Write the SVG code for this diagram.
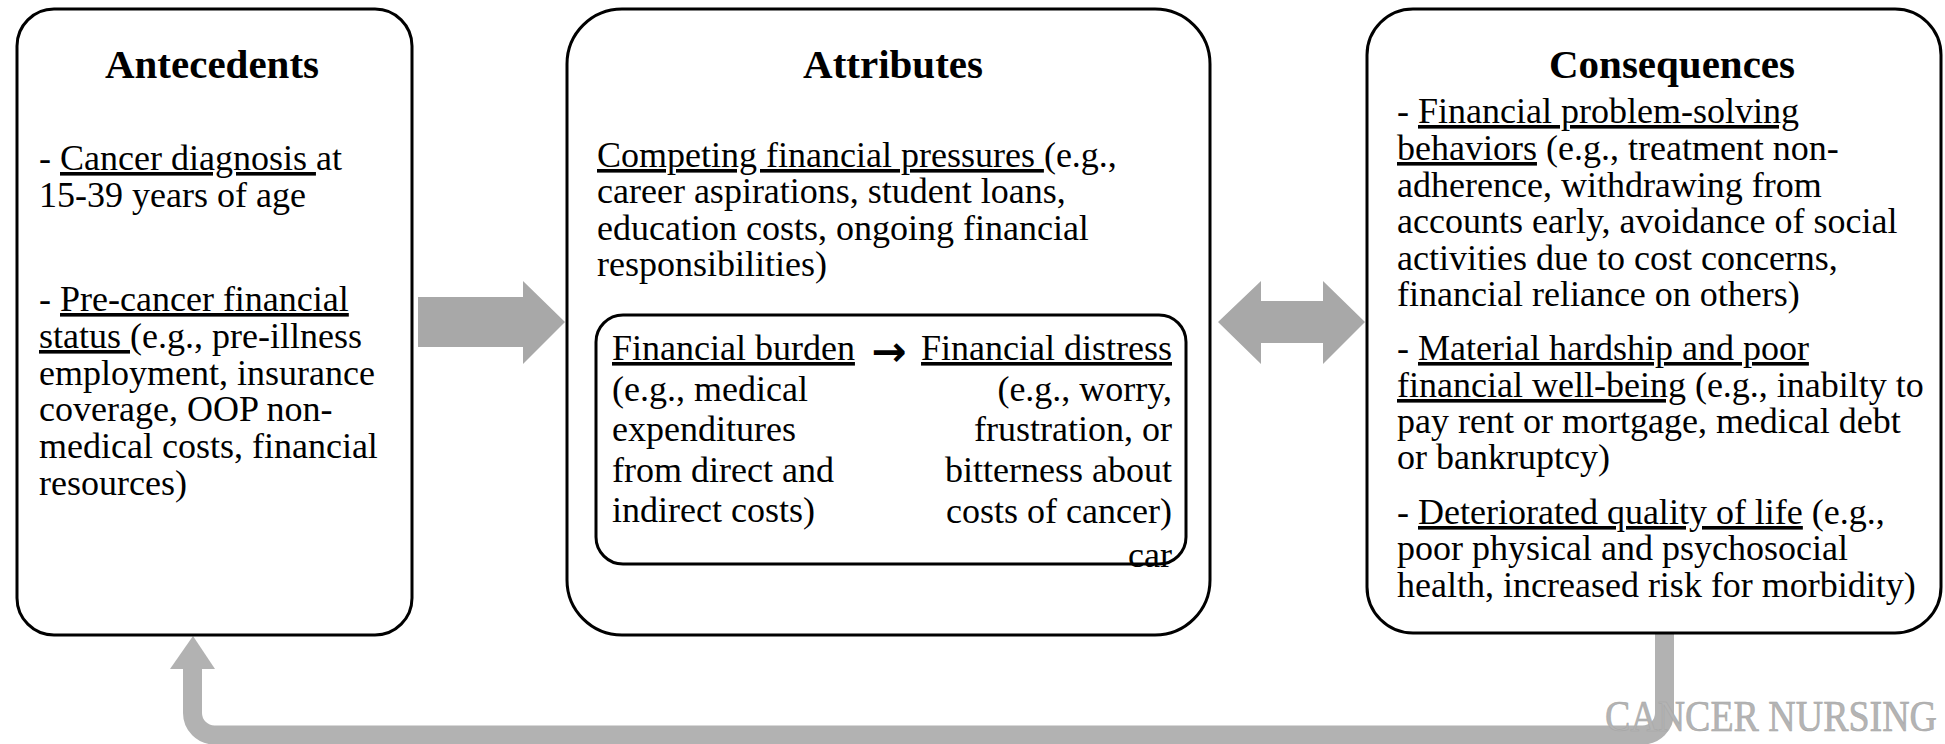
<svg xmlns="http://www.w3.org/2000/svg" width="1945" height="744" viewBox="0 0 1945 744">
  <style>
    .box { fill: #ffffff; stroke: #000000; stroke-width: 3; }
    .title { font-family: "Liberation Serif", "Times New Roman", serif; font-size: 41px; font-weight: bold; fill: #000000; }
    .body { font-family: "Liberation Serif", "Times New Roman", serif; font-size: 36px; fill: #000000; }
    .u { text-decoration: underline; }
    .block { fill: #a8a8a8; }
    .loop { fill: none; stroke: #b2b2b2; stroke-width: 19; }
    .loophead { fill: #b2b2b2; }
    .mark { font-family: "Liberation Serif", "Times New Roman", serif; font-size: 44px; fill: #b4b4b4; stroke: #a6a6a6; stroke-width: 0.6; }
  </style>

  <rect width="1945" height="744" fill="#ffffff"/>

  <!-- connectors -->
  <g id="connectors">
    <polygon class="block" points="418,297 523,297 523,281 565,322 523,364 523,347 418,347"/>
    <polygon class="block" points="1218,322 1261,281 1261,301 1323,301 1323,281 1365,322 1323,364 1323,343 1261,343 1261,364"/>
    <path class="loop" d="M1664.5,633 V713 A22,22 0 0 1 1642.5,735 H214.5 A22,22 0 0 1 192.5,713 V666"/>
    <polygon class="loophead" points="170,669 215,669 193,636"/>
  </g>

  <!-- antecedents -->
  <g id="antecedents">
    <rect class="box" x="17" y="9" width="395" height="626" rx="37" ry="37"/>
    <text class="title" x="212" y="78" text-anchor="middle">Antecedents</text>
    <text class="body" x="39" y="170">- <tspan class="u">Cancer diagnosis </tspan>at</text>
    <text class="body" x="39" y="207">15-39 years of age</text>
    <text class="body" x="39" y="311">- <tspan class="u">Pre-cancer financial</tspan></text>
    <text class="body" x="39" y="348"><tspan class="u">status </tspan>(e.g., pre-illness</text>
    <text class="body" x="39" y="385">employment, insurance</text>
    <text class="body" x="39" y="421">coverage, OOP non-</text>
    <text class="body" x="39" y="458">medical costs, financial</text>
    <text class="body" x="39" y="495">resources)</text>
  </g>

  <!-- attributes -->
  <g id="attributes">
    <rect class="box" x="567" y="9" width="643" height="626" rx="55" ry="55"/>
    <text class="title" x="893" y="78" text-anchor="middle">Attributes</text>
    <text class="body" x="597" y="167"><tspan class="u">Competing financial pressures </tspan>(e.g.,</text>
    <text class="body" x="597" y="203">career aspirations, student loans,</text>
    <text class="body" x="597" y="240">education costs, ongoing financial</text>
    <text class="body" x="597" y="276">responsibilities)</text>
  </g>

  <!-- burden and distress, inside attributes -->
  <g id="burden-distress">
    <rect class="box" x="596" y="315" width="590" height="249" rx="27" ry="27"/>
    <text class="body" x="612" y="360"><tspan class="u">Financial burden</tspan></text>
    <text x="889" y="366" text-anchor="middle" font-family="DejaVu Sans, sans-serif" font-size="42" font-weight="bold">→</text>
    <text class="body" x="612" y="401">(e.g., medical</text>
    <text class="body" x="612" y="441">expenditures</text>
    <text class="body" x="612" y="482">from direct and</text>
    <text class="body" x="612" y="522">indirect costs)</text>
    <g text-anchor="end">
      <text class="body" x="1172" y="360"><tspan class="u">Financial distress</tspan></text>
      <text class="body" x="1172" y="401">(e.g., worry,</text>
      <text class="body" x="1172" y="441">frustration, or</text>
      <text class="body" x="1172" y="482">bitterness about</text>
      <text class="body" x="1172" y="523">costs of cancer)</text>
      <text class="body" x="1172" y="567">car</text>
    </g>
  </g>

  <!-- consequences -->
  <g id="consequences">
    <rect class="box" x="1367" y="9" width="574" height="624" rx="46" ry="46"/>
    <text class="title" x="1549" y="78">Consequences</text>
    <text class="body" x="1397" y="123">- <tspan class="u">Financial problem-solving</tspan></text>
    <text class="body" x="1397" y="160"><tspan class="u">behaviors</tspan> (e.g., treatment non-</text>
    <text class="body" x="1397" y="197">adherence, withdrawing from</text>
    <text class="body" x="1397" y="233">accounts early, avoidance of social</text>
    <text class="body" x="1397" y="270">activities due to cost concerns,</text>
    <text class="body" x="1397" y="306">financial reliance on others)</text>
    <text class="body" x="1397" y="360">- <tspan class="u">Material hardship and poor</tspan></text>
    <text class="body" x="1397" y="397"><tspan class="u">financial well-being</tspan> (e.g., inabilty to</text>
    <text class="body" x="1397" y="433">pay rent or mortgage, medical debt</text>
    <text class="body" x="1397" y="469">or bankruptcy)</text>
    <text class="body" x="1397" y="524">- <tspan class="u">Deteriorated quality of life</tspan> (e.g.,</text>
    <text class="body" x="1397" y="560">poor physical and psychosocial</text>
    <text class="body" x="1397" y="597">health, increased risk for morbidity)</text>
  </g>

  <!-- journal mark -->
  <text class="mark" x="1605" y="731" textLength="332" lengthAdjust="spacingAndGlyphs">CANCER NURSING</text>
</svg>
